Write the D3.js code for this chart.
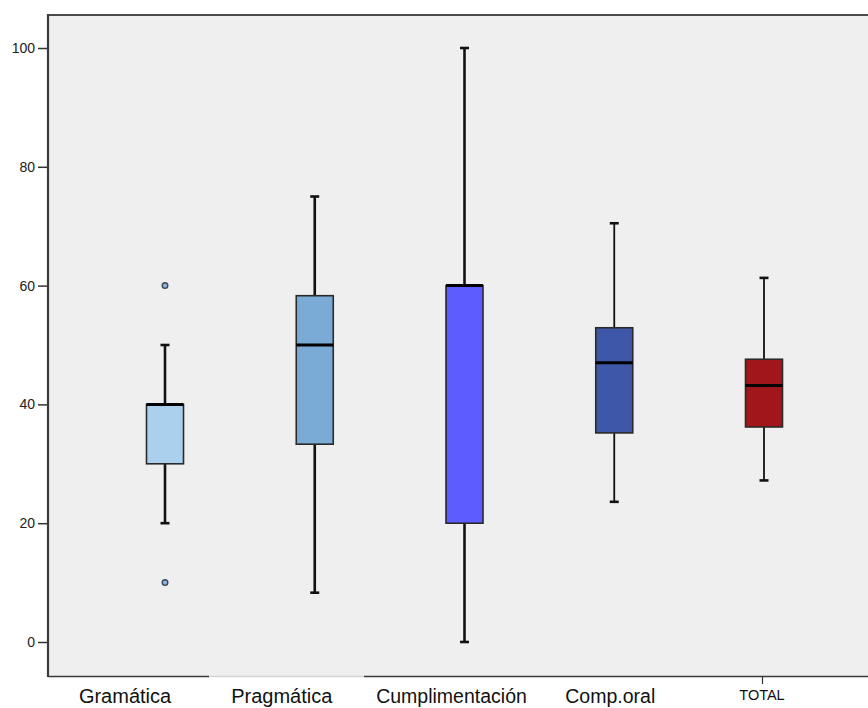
<!DOCTYPE html>
<html>
<head>
<meta charset="utf-8">
<script src="https://cdn.jsdelivr.net/npm/d3@7"></script>
<style>
  body { margin: 0; background: #fff; }
  text { font-family: Arial, "Liberation Sans", sans-serif; }
</style>
</head>
<body>
<div id="chart"></div>
<script>
// data
const categories = ['Gramática', 'Pragmática', 'Cumplimentación', 'Comp.oral', 'TOTAL'];
const whiskerLow = [20, 8.3, 0, 23.6, 27.2];
const q1 = [30, 33.3, 20, 35.2, 36.2];
const median = [40, 50, 60, 47.0, 43.2];
const q3 = [40, 58.3, 60, 52.9, 47.6];
const whiskerHigh = [50, 75, 100, 70.5, 61.3];
const outliers = [[60, 10], [], [], [], []];
const yTicks = [0, 20, 40, 60, 80, 100];

// look
const fills = ['#abd0ee', '#7aaad6', '#5c5cff', '#3f57a8', '#a0161a'];
const whiskerWidth = [2.6, 2.6, 2.6, 1.8, 1.8];
const labelDx = [-40, -33, -13, -4, -2];
const labelDy = [0, 0, 0, 0, -3];
const labelSize = [20, 20, 19.5, 19.5, 14.5];

const width = 868;
const height = 708;
const plot = {left: 48, top: 15, right: 868, bottom: 676};

const svg = d3.select('#chart')
  .append('svg')
    .attr('width', width)
    .attr('height', height);

const x = d3.scalePoint()
  .domain(categories)
  .range([165, 764]);

const y = d3.scaleLinear()
  .domain([0, 100])
  .range([642, 48]);

// panel
svg.append('rect')
  .attr('x', plot.left)
  .attr('y', plot.top)
  .attr('width', plot.right - plot.left)
  .attr('height', plot.bottom - plot.top)
  .attr('fill', '#efefef');

// top border
svg.append('line')
  .attr('x1', plot.left).attr('x2', plot.right)
  .attr('y1', plot.top).attr('y2', plot.top)
  .attr('stroke', '#4a4a4a').attr('stroke-width', 2);

// bottom border, in pieces like the source
const bottomPieces = [[plot.left, 209, '#3a3a3a'], [209, 364, '#d4d4d4'], [364, plot.right, '#3a3a3a']];
svg.selectAll('.bottom-piece')
  .data(bottomPieces)
  .enter()
  .append('line')
    .attr('class', 'bottom-piece')
    .attr('x1', d => d[0]).attr('x2', d => d[1])
    .attr('y1', plot.bottom + 0.5).attr('y2', plot.bottom + 0.5)
    .attr('stroke', d => d[2])
    .attr('stroke-width', 1.5);

// tick under TOTAL
svg.append('line')
  .attr('x1', x('TOTAL') - 1.5).attr('x2', x('TOTAL') - 1.5)
  .attr('y1', plot.bottom).attr('y2', plot.bottom + 8)
  .attr('stroke', '#333').attr('stroke-width', 1.2);

// y axis
const yAxis = svg.append('g')
  .attr('transform', `translate(${plot.left},0)`)
  .call(d3.axisLeft(y).tickValues(yTicks).tickSize(10).tickPadding(3));

yAxis.select('.domain').remove();
yAxis.selectAll('.tick line').attr('stroke', '#333').attr('stroke-width', 1.5);
yAxis.selectAll('.tick text')
  .attr('fill', '#222')
  .style('font-size', '14px')
  .style('font-family', 'Arial, "Liberation Sans", sans-serif');

svg.append('line')
  .attr('x1', plot.left).attr('x2', plot.left)
  .attr('y1', plot.top - 1).attr('y2', plot.bottom + 1)
  .attr('stroke', '#3a3a3a').attr('stroke-width', 2.2);

// boxes
const boxW = 37;
const capW = 9;
const rows = categories.map((c, i) => ({
  c, i,
  lo: whiskerLow[i], q1: q1[i], med: median[i], q3: q3[i], hi: whiskerHigh[i],
  out: outliers[i]
}));

const g = svg.selectAll('.box')
  .data(rows)
  .enter()
  .append('g')
    .attr('class', 'box');

// whiskers
g.append('line')
  .attr('x1', d => x(d.c)).attr('x2', d => x(d.c))
  .attr('y1', d => y(d.hi)).attr('y2', d => y(d.q3))
  .attr('stroke', '#111').attr('stroke-width', d => whiskerWidth[d.i]);

g.append('line')
  .attr('x1', d => x(d.c)).attr('x2', d => x(d.c))
  .attr('y1', d => y(d.q1)).attr('y2', d => y(d.lo))
  .attr('stroke', '#111').attr('stroke-width', d => whiskerWidth[d.i]);

// caps
[d => d.hi, d => d.lo].forEach(read => {
  g.append('line')
    .attr('x1', d => x(d.c) - capW / 2).attr('x2', d => x(d.c) + capW / 2)
    .attr('y1', d => y(read(d))).attr('y2', d => y(read(d)))
    .attr('stroke', '#111').attr('stroke-width', 2.6);
});

g.append('rect')
  .attr('x', d => x(d.c) - boxW / 2)
  .attr('y', d => y(d.q3))
  .attr('width', boxW)
  .attr('height', d => y(d.q1) - y(d.q3))
  .attr('fill', (d, i) => fills[i])
  .attr('stroke', '#2a2a2a')
  .attr('stroke-width', 1.6);

g.append('line')
  .attr('x1', d => x(d.c) - boxW / 2).attr('x2', d => x(d.c) + boxW / 2)
  .attr('y1', d => y(d.med)).attr('y2', d => y(d.med))
  .attr('stroke', '#000').attr('stroke-width', 3);

// outliers
g.selectAll('.outlier')
  .data(d => d.out.map(v => ({c: d.c, v})))
  .enter()
  .append('circle')
    .attr('class', 'outlier')
    .attr('cx', d => x(d.c))
    .attr('cy', d => y(d.v))
    .attr('r', 2.8)
    .attr('fill', '#8fb3d8')
    .attr('stroke', '#3b4a5c')
    .attr('stroke-width', 1.4);

// category labels
svg.selectAll('.cat-label')
  .data(categories)
  .enter()
  .append('text')
    .attr('class', 'cat-label')
    .attr('x', (d, i) => x(d) + labelDx[i])
    .attr('y', (d, i) => 703 + labelDy[i])
    .attr('text-anchor', 'middle')
    .style('font-size', (d, i) => labelSize[i] + 'px')
    .attr('fill', '#111')
    .text(d => d);
</script>
</body>
</html>
